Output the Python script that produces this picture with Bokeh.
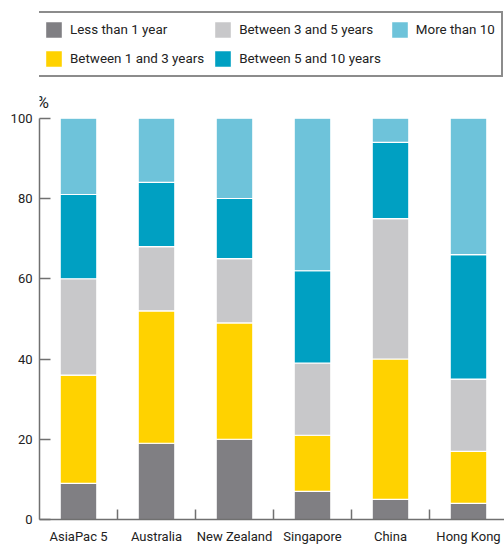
from bokeh.plotting import figure
from bokeh.models import (Range1d, FixedTicker, Legend, LegendItem, Label,
                          ColumnDataSource)
from bokeh.embed import file_html
from bokeh.resources import INLINE
import numpy as np

# Share of respondents by length of tenure (%)
categories = ["AsiaPac 5", "Australia", "New Zealand", "Singapore", "China", "Hong Kong"]
less_than_1 = [9, 19, 20, 7, 5, 4]
between_1_3 = [27, 33, 29, 14, 35, 13]
between_3_5 = [24, 16, 16, 18, 35, 18]
between_5_10 = [21, 16, 15, 23, 19, 31]
more_than_10 = [19, 16, 20, 38, 6, 34]

series_names = ["Less than 1 year", "Between 1 and 3 years", "Between 3 and 5 years",
                "Between 5 and 10 years", "More than 10"]
series_keys = ["lt1", "b13", "b35", "b510", "gt10"]
colors = ["#807F83", "#FFD200", "#C8C8CA", "#00A0C2", "#6EC3DA"]
y_ticks = [0, 20, 40, 60, 80, 100]

FONT = "Roboto"
TEXT = "#222222"
AXIS = "#707070"

xpos = np.arange(len(categories)) + 0.5
source = ColumnDataSource(dict(
    x=xpos, lt1=less_than_1, b13=between_1_3, b35=between_3_5,
    b510=between_5_10, gt10=more_than_10,
))

W, H = 504, 546
left, bottom = 39, 26
frame_w = W - left
frame_h = H - bottom
px_per_pct = 4.02  # vertical scale of the value axis

p = figure(width=W, height=H, output_backend="svg", toolbar_location=None,
           title=None,
           x_range=Range1d(0, frame_w / 78.0),
           y_range=Range1d(0, frame_h / px_per_pct),
           min_border_left=left, min_border_right=0,
           min_border_top=0, min_border_bottom=bottom)
p.outline_line_color = None
p.xgrid.grid_line_color = None
p.ygrid.grid_line_color = None
p.background_fill_color = "white"
p.border_fill_color = "white"

renderers = p.vbar_stack(series_keys, x="x", width=0.47, source=source,
                         color=colors, line_color="white", line_width=1.2)

# value axis
ya = p.yaxis[0]
ya.ticker = FixedTicker(ticks=y_ticks)
ya.bounds = (0, 100)
ya.major_tick_in = 11
ya.major_tick_out = 0
ya.minor_tick_line_color = None
ya.axis_line_color = AXIS
ya.axis_line_width = 1.5
ya.major_tick_line_color = AXIS
ya.major_tick_line_width = 1.5
ya.major_label_text_font = FONT
ya.major_label_text_font_size = "13px"
ya.major_label_text_color = TEXT
ya.major_label_standoff = 7

# category axis: labels at bar centres, short ticks between categories
xa = p.xaxis[0]
xa.ticker = FixedTicker(ticks=list(xpos), minor_ticks=list(np.arange(1, len(categories))))
xa.major_label_overrides = {float(v): c for v, c in zip(xpos, categories)}
xa.major_tick_line_color = None
xa.major_tick_in = 0
xa.major_tick_out = 0
xa.minor_tick_in = 10
xa.minor_tick_out = 0
xa.minor_tick_line_color = AXIS
xa.minor_tick_line_width = 1.5
xa.axis_line_color = AXIS
xa.axis_line_width = 1.5
xa.major_label_text_font = FONT
xa.major_label_text_font_size = "13px"
xa.major_label_text_color = TEXT
xa.major_label_standoff = 9

p.add_layout(Label(x=0, y=100, text="%", x_offset=-3, y_offset=6,
                   text_align="left", text_baseline="bottom",
                   text_font=FONT, text_font_size="17px", text_color=TEXT))

# legend swatches are inset 10% inside their glyph box, so 21px boxes give ~17px squares
legend = Legend(
    items=[LegendItem(label=n, renderers=[r]) for n, r in zip(series_names, renderers)],
    location=(-4, 442), orientation="vertical", nrows=2,
    glyph_width=21, glyph_height=21, label_standoff=6, spacing=8,
    padding=6, margin=0,
    label_text_font=FONT, label_text_font_size="13.4px", label_text_color=TEXT,
    label_height=21,
    border_line_color="#8c8c8c", border_line_width=2, border_line_alpha=1.0,
    background_fill_color="white", background_fill_alpha=1.0,
)
p.add_layout(legend, "center")

open("out.html", "w").write(file_html(p, INLINE))
